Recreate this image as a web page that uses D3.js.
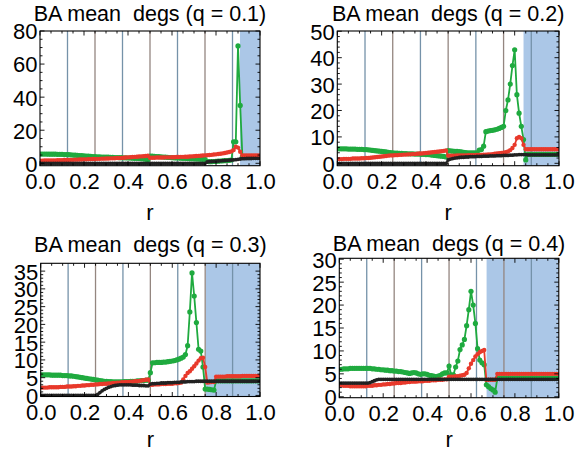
<!DOCTYPE html>
<html><head><meta charset="utf-8">
<script src="https://cdn.jsdelivr.net/npm/d3@7"></script>
<style>
html,body{margin:0;padding:0;background:#fff;}
svg{display:block;font-family:"Liberation Sans",Arial,Helvetica,sans-serif;}
</style></head>
<body>
<svg id="chart" width="588" height="452"></svg>
<script>
// ---------- data ----------
const qValues = [0.1, 0.2, 0.3, 0.4];
const rStep = 0.01;
const xTicks = [0, 0.2, 0.4, 0.6, 0.8, 1.0];
const gridR = [0.125, 0.25, 0.375, 0.5, 0.625, 0.75, 0.875];
const blueStart = [0.909, 0.84, 0.752, 0.671];
const yTicks1 = [0, 20, 40, 60, 80];
const yTicks2 = [0, 10, 20, 30, 40, 50];
const yTicks3 = [0, 5, 10, 15, 20, 25, 30, 35];
const yTicks4 = [0, 5, 10, 15, 20, 25, 30];

// q = 0.1
const green1 = [5.6,5.6,5.6,5.6,5.5,5.5,5.5,5.5,5.4,5.4,
 5.4,5.3,5.3,5.2,5.1,5.0,4.9,4.8,4.7,4.6,
 4.5,4.4,4.3,4.2,4.1,4.0,3.9,3.9,3.8,3.8,
 3.7,3.7,3.6,3.6,3.5,3.5,3.4,3.4,3.3,3.3,
 3.2,3.2,3.1,3.0,3.0,2.9,2.8,2.7,2.5,2.2,
 4.4,4.3,4.2,4.1,4.0,3.9,3.8,3.7,3.6,3.5,
 3.4,3.3,3.2,3.2,3.1,3.0,3.0,2.9,2.8,2.8,
 2.7,2.6,2.6,2.5,2.4,2.4,1.2,1.0,1.0,1.1,
 1.2,1.3,1.4,1.5,1.6,1.7,1.8,2.0,13,13,
 71,35,4.0,3.8,3.7,3.6,3.6,3.5,3.5,3.5,
 3.5];
const red1 = [1.6,1.6,1.7,1.7,1.7,1.8,1.8,1.8,1.9,1.9,
 1.9,2.0,2.0,2.0,2.1,2.1,2.2,2.2,2.3,2.3,
 2.4,2.4,2.5,2.5,2.6,2.6,2.7,2.7,2.8,2.8,
 2.9,2.9,3.0,3.0,3.1,3.2,3.2,3.3,3.4,3.5,
 3.6,3.7,3.8,3.9,4.0,4.1,4.2,4.3,4.4,4.6,
 3.4,3.4,3.4,3.5,3.5,3.5,3.5,3.6,3.6,3.6,
 3.7,3.7,3.8,3.8,3.9,3.9,4.0,4.0,4.1,4.2,
 4.3,4.4,4.5,4.6,4.7,4.8,4.9,5.0,5.1,5.3,
 5.4,5.6,5.8,6.0,6.2,6.5,6.8,7.2,8.0,10.0,
 9.5,7.0,4.8,4.8,4.8,4.8,4.8,4.8,4.8,4.8,
 4.8];
const black1 = [0,0,0,0,0,0,0,0,0,0,
 0,0,0,0,0,0,0,0,0,0,
 0,0,0,0,0,0,0,0,0,0,
 0,0,0,0,0,0,0,0,0,0,
 0,0,0,0,0,0,0,0,0,0,
 0,0,0,0,0,0,0,0,0,0,
 0,0,0,0,0,0,0,0,0,0,
 0,0,0,0,0,0,0.8,1.0,1.1,1.2,
 1.3,1.4,1.5,1.6,1.7,1.8,1.9,2.0,2.1,2.2,
 2.4,2.6,2.8,2.8,2.9,2.9,2.9,3.0,3.0,3.0,
 3.0];

// q = 0.2
const green2 = [5.5,5.5,5.5,5.5,5.5,5.4,5.4,5.4,5.4,5.3,
 5.3,5.3,5.2,5.2,5.1,5.0,4.9,4.8,4.7,4.6,
 4.5,4.4,4.3,4.2,4.1,4.0,3.9,3.9,3.8,3.8,
 3.7,3.7,3.6,3.6,3.6,3.5,3.5,3.5,3.4,3.4,
 3.3,3.3,3.2,3.1,3.0,2.9,2.8,2.7,2.6,2.4,
 4.8,4.7,4.6,4.5,4.5,4.4,4.3,4.2,4.1,4.0,
 4.0,4.0,4.0,4.0,5.0,5.2,6.5,12.0,12.2,12.4,
 12.5,12.7,12.9,13.2,13.6,14.0,20.0,24.0,30.0,37.0,
 43.0,26.0,19.0,14.0,9.0,1.3,3.4,3.4,3.4,3.4,
 3.4,3.4,3.4,3.4,3.4,3.4,3.4,3.4,3.4,3.4,
 3.4];
const red2 = [1.6,1.6,1.6,1.7,1.7,1.7,1.7,1.8,1.8,1.8,
 1.8,1.9,1.9,2.0,2.0,2.1,2.2,2.3,2.4,2.5,
 2.6,2.7,2.8,2.9,3.0,3.0,3.1,3.1,3.2,3.2,
 3.3,3.3,3.4,3.4,3.5,3.5,3.6,3.7,3.7,3.8,
 3.9,4.0,4.1,4.2,4.3,4.4,4.5,4.6,4.7,4.9,
 2.9,2.9,2.9,2.9,3.0,3.0,3.0,3.0,3.0,3.1,
 3.1,3.1,3.1,3.2,3.2,3.2,3.3,3.3,3.4,3.4,
 3.5,3.6,3.7,3.8,3.9,4.0,4.2,4.5,5.0,5.8,
 7.0,9.5,10.0,9.5,7.0,5.3,5.3,5.3,5.3,5.3,
 5.3,5.3,5.3,5.3,5.3,5.3,5.3,5.3,5.3,5.3,
 5.3];
const black2 = [0,0,0,0,0,0,0,0,0,0,
 0,0,0,0,0,0,0,0,0,0,
 0,0,0,0,0,0,0,0,0,0,
 0,0,0,0,0,0,0,0,0,0,
 0,0,0,0,0,0,0,0,0,0,
 1.3,1.6,1.8,2.0,2.1,2.2,2.3,2.3,2.4,2.4,
 2.5,2.5,2.5,2.6,2.6,2.6,2.7,2.7,2.7,2.8,
 2.8,2.8,2.9,2.9,2.9,3.0,3.0,3.0,3.1,3.1,
 3.2,3.2,3.3,3.3,3.3,3.3,3.2,3.2,3.2,3.2,
 3.2,3.2,3.2,3.2,3.2,3.2,3.2,3.2,3.2,3.2,
 3.2];

// q = 0.3
const green3 = [5.8,5.8,5.8,5.8,5.8,5.7,5.7,5.7,5.7,5.7,
 5.6,5.6,5.6,5.5,5.5,5.4,5.3,5.2,5.1,5.0,
 4.9,4.8,4.7,4.6,4.5,4.4,4.3,4.2,4.1,4.0,
 4.0,3.9,3.9,3.8,3.8,3.8,3.8,3.8,3.9,3.9,
 3.9,4.0,4.0,4.0,4.1,4.1,4.2,4.2,4.3,4.3,
 6.4,9.2,9.2,9.3,9.3,9.3,9.4,9.4,9.5,9.6,
 9.7,9.8,10.0,10.2,10.5,10.8,11.5,14.0,23.5,34.5,
 28.0,20.5,13.0,12.5,8.0,1.8,1.8,1.7,1.6,1.5,
 4.1,4.1,4.1,4.1,4.1,4.1,4.1,4.1,4.1,4.1,
 4.1,4.1,4.1,4.1,4.1,4.1,4.1,4.1,4.1,4.1,
 4.1];
const red3 = [2.2,2.2,2.2,2.2,2.3,2.3,2.3,2.3,2.3,2.4,
 2.4,2.4,2.5,2.5,2.5,2.6,2.6,2.7,2.7,2.8,
 2.8,2.9,2.9,3.0,3.0,3.1,3.1,3.2,3.2,3.3,
 3.3,3.4,3.4,3.5,3.5,3.6,3.6,3.7,3.7,3.8,
 3.8,3.9,3.9,4.0,4.0,4.1,4.2,4.3,4.4,4.5,
 3.0,3.0,3.1,3.1,3.1,3.2,3.2,3.2,3.3,3.3,
 3.3,3.4,3.4,3.5,3.6,4.5,5.5,6.3,6.8,7.5,
 8.2,9.0,9.8,10.5,10.6,8.0,3.6,3.7,3.8,3.8,
 5.3,5.3,5.3,5.3,5.3,5.4,5.4,5.4,5.4,5.4,
 5.4,5.4,5.5,5.5,5.5,5.5,5.5,5.5,5.5,5.5,
 5.5];
const black3 = [0,0,0,0,0,0,0,0,0,0,
 0,0,0,0,0,0,0,0,0,0,
 0,0,0,0,0,0,0.3,0.8,1.3,1.7,
 2.0,2.3,2.5,2.7,2.8,2.9,3.0,3.0,3.0,3.0,
 3.0,3.0,2.9,2.9,2.9,2.8,2.8,2.8,2.7,2.7,
 3.2,3.3,3.3,3.4,3.4,3.5,3.5,3.5,3.6,3.6,
 3.6,3.7,3.7,3.7,3.8,3.8,3.8,3.9,3.9,3.9,
 3.9,4.0,4.0,4.0,4.0,4.0,4.0,4.0,4.0,4.0,
 4.0,4.0,4.0,4.0,4.0,4.0,4.0,4.0,4.0,4.0,
 4.0,4.0,4.0,4.0,4.0,4.0,4.0,4.0,4.0,4.0,
 4.0];

// q = 0.4
const green4 = [6.0,6.0,6.1,6.1,6.1,6.2,6.2,6.2,6.2,6.2,
 6.2,6.2,6.2,6.2,6.2,6.1,6.1,6.0,6.0,5.9,
 5.9,5.8,5.8,5.7,5.7,5.6,5.6,5.5,5.5,5.4,
 5.3,5.2,5.1,5.2,5.3,5.2,5.0,4.9,5.0,5.0,
 4.9,4.7,4.6,4.5,4.4,4.5,4.7,5.0,5.2,5.2,
 6.7,4.8,4.8,6.5,7.8,10.3,11.3,12.5,15.5,19.0,
 23.0,20.0,16.0,10.5,8.0,7.4,7.0,2.6,2.2,1.8,
 1.5,1.0,4.0,4.0,4.0,4.0,4.0,4.0,4.0,4.0,
 4.0,4.0,4.0,4.0,4.0,4.0,4.0,4.0,4.0,4.0,
 4.0,4.0,4.0,4.0,4.0,4.0,4.0,4.0,4.0,4.0,
 4.0];
const red4 = [2.5,2.5,2.4,2.4,2.4,2.3,2.3,2.3,2.3,2.3,
 2.3,2.3,2.3,2.4,2.4,2.4,2.5,2.5,2.6,2.6,
 2.7,2.7,2.8,2.8,2.9,2.9,3.0,3.0,3.0,3.1,
 3.1,3.2,3.2,3.3,3.3,3.3,3.4,3.4,3.4,3.5,
 3.5,3.5,3.6,3.6,3.6,3.7,3.7,3.7,3.8,3.8,
 4.4,4.4,4.4,4.5,4.5,4.6,4.7,4.8,5.2,6.2,
 7.2,8.0,8.8,9.3,9.7,10.0,10.2,3.7,3.7,3.7,
 3.7,3.7,5.0,5.0,5.0,5.0,5.0,5.0,5.0,5.0,
 5.0,5.0,5.0,5.0,5.0,5.0,5.0,5.0,5.0,5.0,
 5.0,5.0,5.0,5.0,5.0,5.0,5.0,5.0,5.0,5.0,
 5.0];
const black4 = [3.0,3.0,3.0,3.0,3.0,3.0,3.0,3.0,3.0,3.0,
 3.0,3.0,3.0,3.0,3.1,3.3,3.5,3.7,3.8,3.8,
 3.8,3.8,3.8,3.8,3.8,3.8,3.8,3.8,3.8,3.8,
 3.8,3.8,3.8,3.8,3.8,3.8,3.8,3.8,3.8,3.8,
 3.8,3.8,3.8,3.8,3.8,3.8,3.8,3.8,3.8,3.8,
 3.8,3.8,3.8,3.8,3.8,3.8,3.8,3.8,3.8,3.8,
 3.8,3.8,3.8,3.8,3.8,3.8,3.8,3.8,3.8,3.8,
 3.8,3.8,3.8,3.8,3.8,3.8,3.8,3.8,3.8,3.8,
 3.8,3.8,3.8,3.8,3.8,3.8,3.8,3.8,3.8,3.8,
 3.8,3.8,3.8,3.8,3.8,3.8,3.8,3.8,3.8,3.8,
 3.8];

const greens = [green1, green2, green3, green4];
const reds = [red1, red2, red3, red4];
const blacks = [black1, black2, black3, black4];
const yTicksAll = [yTicks1, yTicks2, yTicks3, yTicks4];

// ---------- layout ----------
const layout = [
  {l:40,   r:260,   t:31,    b:165.7, ymin:-1.45, ymax:80,   titleY:20.7, rY:219.5, minorY:5},
  {l:337.3,r:559,   t:31,    b:165.7, ymin:-0.9,  ymax:50.1, titleY:20.7, rY:219.5, minorY:2},
  {l:40.7, r:260,   t:263.3, b:396.5, ymin:-0.3,  ymax:37.2, titleY:252,  rY:447.3, minorY:1},
  {l:339.3,r:558.8, t:258.3, b:397.7, ymin:-0.2,  ymax:30.2, titleY:251.3,rY:447.3, minorY:1}
];

const COL_G = "#1faa3f", COL_R = "#e8392b", COL_K = "#222222";
const FONT = 22;
const svg = d3.select("#chart");
const defs = svg.append("defs");

layout.forEach((L, p) => {
  const x = d3.scaleLinear().domain([0, 1]).range([L.l, L.r]);
  const y = d3.scaleLinear().domain([L.ymin, L.ymax]).range([L.b, L.t]);
  const g = svg.append("g");
  const clipId = "clip" + p;
  defs.append("clipPath").attr("id", clipId).append("rect")
    .attr("x", L.l).attr("y", L.t).attr("width", L.r - L.l).attr("height", L.b - L.t);

  const plot = g.append("g").attr("clip-path", `url(#${clipId})`);
  plot.append("rect").attr("x", x(blueStart[p])).attr("y", L.t)
    .attr("width", x(1) - x(blueStart[p])).attr("height", L.b - L.t)
    .attr("fill", "#abc7e7");
  plot.selectAll("line.vg").data(gridR).enter().append("line")
    .attr("x1", d => x(d)).attr("x2", d => x(d)).attr("y1", L.t).attr("y2", L.b)
    .attr("stroke", (d, i) => i % 2 === 0 ? "#7592a9" : "#948680").attr("stroke-width", 1.3);

  const rs = greens[p].map((v, i) => i * rStep);
  const line = d3.line().x((d, i) => x(rs[i])).y(d => y(d));
  const series = [
    {vals: greens[p], col: COL_G, rad: 2.6, w: 1.8},
    {vals: reds[p],   col: COL_R, rad: 2.2, w: 1.8},
    {vals: blacks[p], col: COL_K, rad: 1.9, w: 1.8}
  ];
  series.forEach(s => {
    plot.append("path").datum(s.vals).attr("d", line)
      .attr("fill", "none").attr("stroke", s.col).attr("stroke-width", s.w);
    plot.selectAll(null).data(s.vals).enter().append("circle")
      .attr("cx", (d, i) => x(rs[i])).attr("cy", d => y(d)).attr("r", s.rad)
      .attr("fill", s.col);
  });

  g.append("rect").attr("x", L.l).attr("y", L.t).attr("width", L.r - L.l).attr("height", L.b - L.t)
    .attr("fill", "none").attr("stroke", "#000").attr("stroke-width", 1.1);

  const tk = g.append("g").attr("stroke", "#000").attr("stroke-width", 0.9);
  d3.range(0, 1.0001, 0.05).forEach(v => {
    const major = Math.abs(v * 5 - Math.round(v * 5)) < 1e-6;
    const len = major ? 4.5 : 2.5;
    tk.append("line").attr("x1", x(v)).attr("x2", x(v)).attr("y1", L.b).attr("y2", L.b - len);
    tk.append("line").attr("x1", x(v)).attr("x2", x(v)).attr("y1", L.t).attr("y2", L.t + len);
  });
  const yt = yTicksAll[p];
  const step = yt[1] - yt[0];
  d3.range(0, yt[yt.length - 1] + 1e-6, L.minorY).forEach(v => {
    if (v > L.ymax) return;
    const major = Math.abs(v / step - Math.round(v / step)) < 1e-6;
    const len = major ? 4.5 : 2.5;
    tk.append("line").attr("x1", L.l).attr("x2", L.l + len).attr("y1", y(v)).attr("y2", y(v));
    tk.append("line").attr("x1", L.r).attr("x2", L.r - len).attr("y1", y(v)).attr("y2", y(v));
  });

  const xAxis = d3.axisBottom(x).tickValues(xTicks).tickFormat(d3.format(".1f")).tickSize(0).tickPadding(0);
  const xa = g.append("g").attr("transform", `translate(0,${L.b + 23})`).call(xAxis);
  xa.select(".domain").remove();
  xa.selectAll("text").attr("dy", 0).attr("y", 0).attr("font-size", FONT)
    .attr("font-family", "Liberation Sans, Arial, sans-serif").attr("fill", "#000");

  const yAxis = d3.axisLeft(y).tickValues(yt).tickFormat(d3.format("d")).tickSize(0).tickPadding(0);
  const ya = g.append("g").attr("transform", `translate(${L.l - 2.5},0)`).call(yAxis);
  ya.select(".domain").remove();
  ya.selectAll("text").attr("dy", "0.36em").attr("x", 0).attr("font-size", FONT)
    .attr("font-family", "Liberation Sans, Arial, sans-serif").attr("fill", "#000");

  g.append("text").attr("x", (L.l + L.r) / 2).attr("y", L.titleY).attr("text-anchor", "middle")
    .attr("font-size", 21.5).attr("fill", "#000").attr("xml:space", "preserve")
    .style("white-space", "pre")
    .text(`BA mean  degs (q = ${qValues[p].toFixed(1)})`);
  g.append("text").attr("x", (L.l + L.r) / 2).attr("y", L.rY).attr("text-anchor", "middle")
    .attr("font-size", FONT).attr("fill", "#000").text("r");
});
</script>
</body></html>
